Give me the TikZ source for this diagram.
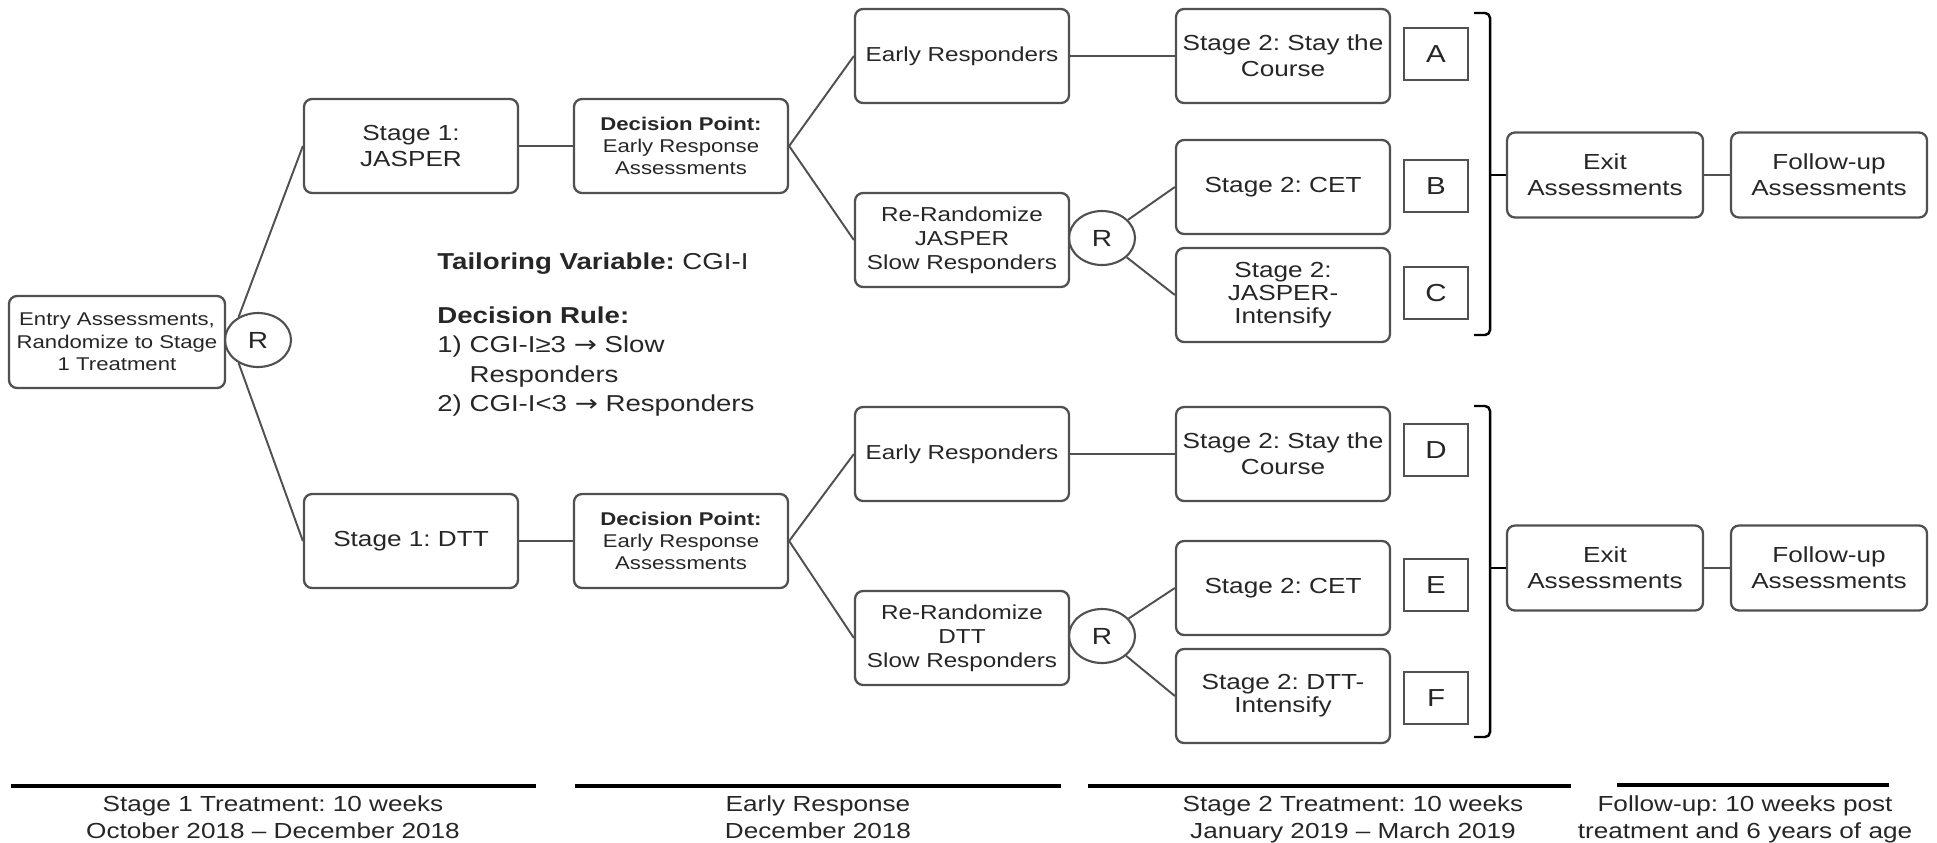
\documentclass[tikz,border=0pt]{standalone}
\usepackage{fontspec}
\setmainfont{Liberation Sans}[FakeStretch=1.2]
\newfontfamily\arrowfont{DejaVu Sans}[FakeStretch=1.2]
\usetikzlibrary{shapes.geometric}
\definecolor{boxline}{HTML}{505050}
\definecolor{ink}{HTML}{262626}
\newcommand{\thento}{{\arrowfont →}}
\frenchspacing

\begin{document}
\begin{tikzpicture}[x=0.2mm,y=-0.2mm,every node/.style={text=ink},
 stagebox/.style={draw=boxline,line width=1.3pt,rounded corners=1.6mm,minimum width=42.8mm,minimum height=18.8mm,align=center,inner sep=1pt},
 big/.style={font=\fontsize{12.4}{14.8}\selectfont},
 tight/.style={font=\fontsize{12.4}{13}\selectfont},
 mid/.style={font=\fontsize{11.5}{13.7}\selectfont},
 small/.style={font=\fontsize{10.5}{12.7}\selectfont},
 exitbox/.style={stagebox,big,minimum width=39.2mm,minimum height=17mm},
 rand/.style={draw=boxline,line width=1.2pt,ellipse,minimum width=13.2mm,minimum height=10.8mm,inner sep=0pt,font=\fontsize{13.3}{14}\selectfont},
 arm/.style={draw=boxline,line width=1.2pt,minimum width=12.8mm,minimum height=10.4mm,inner sep=0pt,font=\fontsize{14}{16}\selectfont},
 link/.style={draw=boxline,line width=1.1pt},
 brace/.style={black,line width=1.4pt},
 period/.style={black,line width=2pt},
 when/.style={font=\fontsize{12.4}{15.4}\selectfont,align=center,anchor=north,inner sep=0pt}]
 \useasboundingbox (0,0) rectangle (1937,842);
 \node[stagebox,small,minimum width=43.2mm,minimum height=18.4mm] (entry) at (117,342) {Entry Assessments,\\Randomize to Stage\\1 Treatment};
 \node[rand] (r1) at (258,340) {R};
 % JASPER arm
 \node[stagebox,big] (s1a) at (411,146) {Stage 1:\\JASPER};
 \node[stagebox,small] (dp1) at (681,146) {\textbf{Decision Point:}\\Early Response\\Assessments};
 \node[stagebox,mid] (er1) at (962,56) {Early Responders};
 \node[stagebox,mid] (rr1) at (962,240) {Re-Randomize\\JASPER\\Slow Responders};
 \node[rand] (r2) at (1102,238) {R};
 \node[stagebox,big] (st1) at (1283,56) {Stage 2: Stay the\\Course};
 \node[stagebox,big] (cet1) at (1283,187) {Stage 2: CET};
 \node[stagebox,tight] (int1) at (1283,295) {Stage 2:\\JASPER-\\Intensify};
 \node[arm] (armA) at (1436,54) {A};
 \node[arm] (armB) at (1436,186) {B};
 \node[arm] (armC) at (1436,293) {C};
 \node[exitbox] (exit1) at (1605,175) {Exit\\Assessments};
 \node[exitbox] (fu1) at (1829,175) {Follow-up\\Assessments};
 \coordinate (br1) at (1490,175);
 % DTT arm
 \node[stagebox,big] (s1b) at (411,541) {Stage 1: DTT};
 \node[stagebox,small] (dp2) at (681,541) {\textbf{Decision Point:}\\Early Response\\Assessments};
 \node[stagebox,mid] (er2) at (962,454) {Early Responders};
 \node[stagebox,mid] (rr2) at (962,638) {Re-Randomize\\DTT\\Slow Responders};
 \node[rand] (r3) at (1102,636) {R};
 \node[stagebox,big] (st2) at (1283,454) {Stage 2: Stay the\\Course};
 \node[stagebox,big] (cet2) at (1283,588) {Stage 2: CET};
 \node[stagebox,tight] (int2) at (1283,696) {Stage 2: DTT-\\Intensify};
 \node[arm] (armD) at (1436,450) {D};
 \node[arm] (armE) at (1436,585) {E};
 \node[arm] (armF) at (1436,698) {F};
 \node[exitbox] (exit2) at (1605,568) {Exit\\Assessments};
 \node[exitbox] (fu2) at (1829,568) {Follow-up\\Assessments};
 \coordinate (br2) at (1490,568);

 \draw[link] (r1.130) -- (s1a.west);
 \draw[link] (r1.230) -- (s1b.west);
 \draw[link] (s1a) -- (dp1);
 \draw[link] (dp1.east) -- (er1.west);
 \draw[link] (dp1.east) -- (rr1.west);
 \draw[link] (er1) -- (st1);
 \draw[link] (r2) -- (cet1.west);
 \draw[link] (r2) -- (int1.west);
 \draw[link] (exit1) -- (fu1);
 \draw[link] (s1b) -- (dp2);
 \draw[link] (dp2.east) -- (er2.west);
 \draw[link] (dp2.east) -- (rr2.west);
 \draw[link] (er2) -- (st2);
 \draw[link] (r3) -- (cet2.west);
 \draw[link] (r3) -- (int2.west);
 \draw[link] (exit2) -- (fu2);

 \draw[brace,rounded corners=1mm] (1474,13) -- (1490,13) -- (1490,335) -- (1474,335);
 \draw[brace] (br1) -- (exit1);
 \draw[brace,rounded corners=1mm] (1474,406) -- (1490,406) -- (1490,737) -- (1474,737);
 \draw[brace] (br2) -- (exit2);

 \node[anchor=north west,align=left,inner sep=0pt,font=\fontsize{13.1}{16.8}\selectfont] (rule) at (437,252)
  {\textbf{Tailoring Variable:} CGI-I\\[14pt]\textbf{Decision Rule:}\\1) CGI-I≥3 \thento{} Slow\\\phantom{1) }Responders\\2) CGI-I<3 \thento{} Responders};

 % time line
 \draw[period] (11,786) -- (536,786);
 \draw[period] (575,786) -- (1061,786);
 \draw[period] (1088,786) -- (1571,786);
 \draw[period] (1617,785) -- (1889,785);
 \node[when] (t1) at (273,795) {Stage 1 Treatment: 10 weeks\\October 2018 -- December 2018};
 \node[when] (t2) at (818,795) {Early Response\\December 2018};
 \node[when] (t3) at (1353,795) {Stage 2 Treatment: 10 weeks\\January 2019 -- March 2019};
 \node[when] (t4) at (1745,795) {Follow-up: 10 weeks post\\treatment and 6 years of age};
\end{tikzpicture}
\end{document}
